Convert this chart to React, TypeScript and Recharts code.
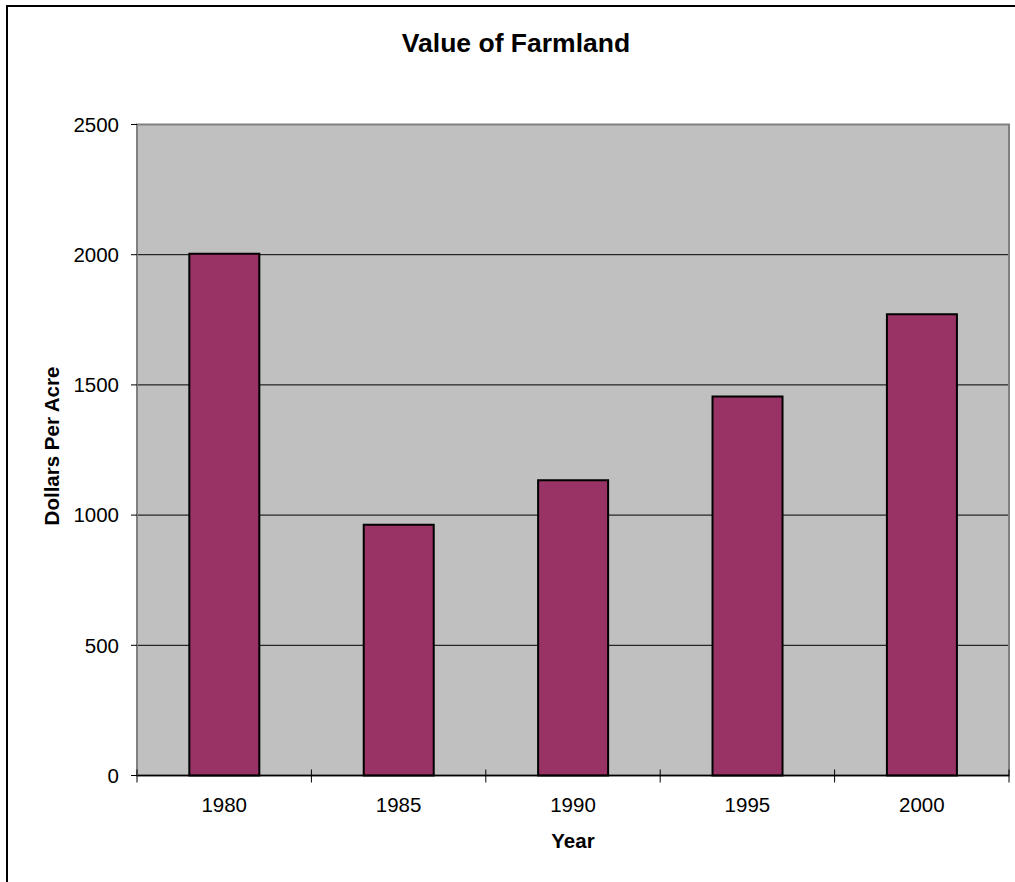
import React from 'react';
import { BarChart, Bar, XAxis, YAxis, CartesianGrid, ReferenceArea, Label } from 'recharts';

const years = ['1980', '1985', '1990', '1995', '2000'];
const dollarsPerAcre = [2004, 963, 1134, 1455, 1771];
const yTicks = [0, 500, 1000, 1500, 2000, 2500];
const gridValues = [500, 1000, 1500, 2000];
const chartTitle = 'Value of Farmland';
const xTitle = 'Year';
const yTitle = 'Dollars Per Acre';

const data = years.map((year, i) => ({ year, value: dollarsPerAcre[i] }));

const FONT = '"Liberation Sans", Arial, Helvetica, sans-serif';

function XTick(props: any) {
  const { x, y, payload, index } = props;
  const half = payload && typeof payload.offset === 'number' && payload.offset > 0 ? payload.offset : 87.2;
  const last = index === years.length - 1;
  return (
    <g>
      <line x1={x - half} x2={x - half} y1={y - 6} y2={y + 7} stroke="#000" strokeWidth={1} />
      {last && <line x1={x + half} x2={x + half} y1={y - 6} y2={y + 7} stroke="#000" strokeWidth={1} />}
      <text x={x} y={y + 22} dy="0.71em" textAnchor="middle" fontFamily={FONT} fontSize={20.5} fill="#000">
        {payload.value}
      </text>
    </g>
  );
}

function YTitle(props: any) {
  const vb = props.viewBox || { x: 0, y: 125, width: 137, height: 650 };
  const cx = 52;
  const cy = vb.y + vb.height / 2 - 4;
  return (
    <text
      x={cx}
      y={cy}
      dy="0.355em"
      transform={`rotate(-90 ${cx} ${cy})`}
      textAnchor="middle"
      fontFamily={FONT}
      fontSize={20.5}
      fontWeight="bold"
      fill="#000"
    >
      {yTitle}
    </text>
  );
}

function XTitle(props: any) {
  const vb = props.viewBox || { x: 137, y: 775, width: 872, height: 107 };
  return (
    <text
      x={vb.x + vb.width / 2}
      y={vb.y + 72}
      textAnchor="middle"
      fontFamily={FONT}
      fontSize={20.5}
      fontWeight="bold"
      fill="#000"
    >
      {xTitle}
    </text>
  );
}

export default function App() {
  return (
    <div
      style={{
        position: 'absolute',
        left: 0,
        top: 0,
        width: 1015,
        height: 882,
        background: '#fff',
        overflow: 'hidden',
      }}
    >
      <div style={{ position: 'absolute', left: 6, top: 5, width: 1100, height: 2, background: '#000' }} />
      <div style={{ position: 'absolute', left: 6, top: 5, width: 2, height: 1000, background: '#000' }} />
      <div
        style={{
          position: 'absolute',
          left: 216,
          top: 30,
          width: 600,
          textAlign: 'center',
          fontFamily: FONT,
          fontSize: 26.5,
          lineHeight: '26px',
          fontWeight: 'bold',
          color: '#000',
        }}
      >
        {chartTitle}
      </div>
      <div style={{ position: 'absolute', left: 0, top: 0 }}>
        <BarChart
          width={1015}
          height={882}
          data={data}
          margin={{ top: 124.5, right: 6, bottom: 0, left: 0 }}
          barCategoryGap="30%"
        >
          <CartesianGrid
            fill="#C0C0C0"
            fillOpacity={1}
            vertical={false}
            horizontalValues={gridValues}
            stroke="#000"
            strokeOpacity={1}
            strokeWidth={1}
          />
          <ReferenceArea y1={0} y2={2500} fill="none" stroke="#808080" strokeWidth={2} ifOverflow="visible" />
          <XAxis
            dataKey="year"
            height={106.5}
            axisLine={{ stroke: '#000', strokeWidth: 1.5 }}
            tickLine={false}
            tickSize={0}
            tickMargin={0}
            interval={0}
            tick={<XTick />}
          >
            <Label content={<XTitle />} />
          </XAxis>
          <YAxis
            width={137}
            domain={[0, 2500]}
            ticks={yTicks}
            interval={0}
            axisLine={{ stroke: '#808080', strokeWidth: 2 }}
            tickLine={{ stroke: '#000', strokeWidth: 1 }}
            tickSize={6}
            tickMargin={12}
            tick={{ fill: '#000', fontSize: 20.5, fontFamily: FONT }}
          >
            <Label content={<YTitle />} />
          </YAxis>
          <Bar dataKey="value" fill="#993366" stroke="#000" strokeWidth={2} isAnimationActive={false} />
        </BarChart>
      </div>
    </div>
  );
}
